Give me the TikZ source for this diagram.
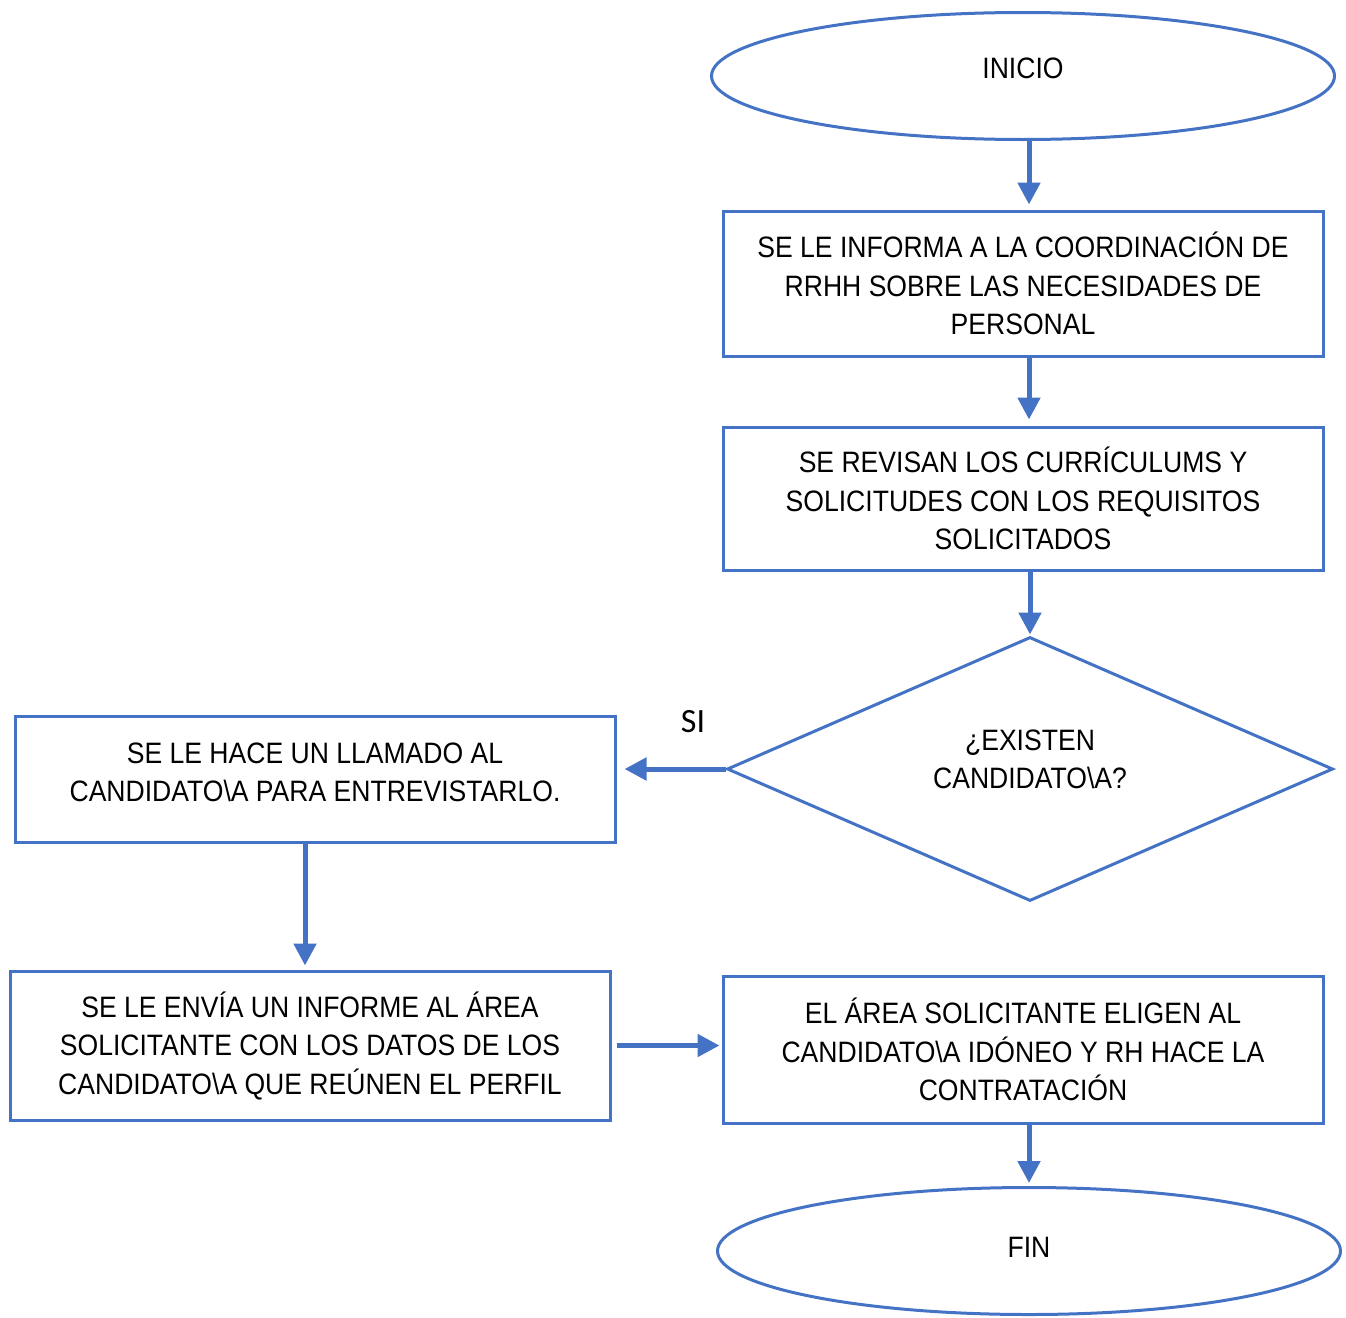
\documentclass[tikz,border=0pt]{standalone}
\usepackage{fontspec}
\setmainfont{Liberation Sans}[FakeStretch=0.9]
\newfontfamily\labelfont{Carlito}
\usetikzlibrary{shapes.geometric,arrows.meta}
\definecolor{flowblue}{RGB}{68,114,196}
\begin{document}
\begin{tikzpicture}[x=1pt,y=-1pt,
  every node/.style={font=\fontsize{29.5}{38.5}\selectfont, text=black, align=center, inner sep=0pt},
  procbox/.style={draw=flowblue, line width=3pt, rectangle, minimum width=600pt},
  terminal/.style={draw=flowblue, line width=3pt, ellipse, minimum width=623pt, minimum height=127pt},
  decision/.style={draw=flowblue, line width=3pt, diamond, aspect=2.3, minimum width=606pt, minimum height=264pt},
  flow/.style={draw=flowblue, line width=5pt, -{Triangle[length=22pt,width=22pt]}}
]
\useasboundingbox (0,0) rectangle (1346,1317);

% start and end
\node[terminal] (inicio) at (1023,76) {};
\node (inicio-txt) at ([yshift=8pt]inicio.center) {INICIO};
\node[terminal] (fin) at (1029,1251) {};
\node (fin-txt) at ([yshift=4pt]fin.center) {FIN};

% right column of steps
\node[procbox, minimum height=145pt] (inform) at (1023,283.5)
  {SE LE INFORMA A LA COORDINACIÓN DE\\RRHH SOBRE LAS NECESIDADES DE\\PERSONAL};
\node[procbox, minimum height=143pt] (revisa) at (1023,498.5)
  {SE REVISAN LOS CURRÍCULUMS Y\\SOLICITUDES CON LOS REQUISITOS\\SOLICITADOS};
\node[decision] (existen) at (1030,769) {};
\node (existen-txt) at ([yshift=9.5pt]existen.center)
  {¿EXISTEN\\CANDIDATO\textbackslash A?};
\node[procbox, minimum height=147pt] (elige) at (1023,1049.5)
  {EL ÁREA SOLICITANTE ELIGEN AL\\CANDIDATO\textbackslash A IDÓNEO Y RH HACE LA\\CONTRATACIÓN};

% left column of steps
\node[procbox, minimum height=126pt] (llamado) at (315,779) {};
\node (llamado-txt) at ([yshift=6.5pt]llamado.center)
  {SE LE HACE UN LLAMADO AL\\CANDIDATO\textbackslash A PARA ENTREVISTARLO.};
\node[procbox, minimum height=149pt] (envia) at (310,1045.5)
  {SE LE ENVÍA UN INFORME AL ÁREA\\SOLICITANTE CON LOS DATOS DE LOS\\CANDIDATO\textbackslash A QUE REÚNEN EL PERFIL};

% connectors
\draw[flow, shorten >=5pt] ([xshift=6pt]inicio.south) -- ([xshift=6pt]inform.north);
\draw[flow, shorten >=6pt] ([xshift=6pt]inform.south) -- ([xshift=6pt]revisa.north);
\draw[flow, shorten >=1pt] ([xshift=7pt]revisa.south) -- (existen.north);
\draw[flow, shorten >=8pt] (existen.west) -- (existen.west -| llamado.east);
\draw[flow, shorten >=4pt] ([xshift=-10pt]llamado.south) -- ([xshift=-5pt]envia.north);
\draw[flow, shorten <=5pt, shorten >=2pt] (envia.east) -- (envia.east -| elige.west);
\draw[flow, shorten >=3pt] ([xshift=6pt]elige.south) -- (fin.north);

% branch label
\node[font=\labelfont\fontsize{34}{40}\selectfont] (si) at (693,722) {SI};
\end{tikzpicture}
\end{document}
